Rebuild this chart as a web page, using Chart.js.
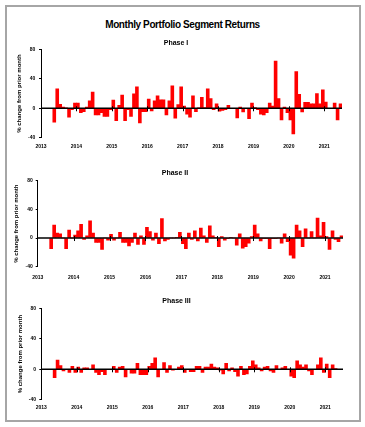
<!DOCTYPE html>
<html>
<head>
<meta charset="utf-8">
<script src="https://cdn.jsdelivr.net/npm/chart.js@4.4.0/dist/chart.umd.min.js"></script>
<style>
  html, body { margin: 0; padding: 0; background: #fff; }
  body { width: 365px; height: 427px; position: relative; overflow: hidden; font-family: "Liberation Sans", Arial, sans-serif; }
  #frame { position: absolute; left: 5px; top: 5px; width: 356px; height: 417px; box-sizing: border-box; border: 2px solid #a6a6a6; }
  #mainTitle { position: absolute; left: 0; top: 19px; width: 365px; text-align: center; font-size: 10px; line-height: 12px; font-weight: bold; letter-spacing: -0.4px; color: #000; }
  canvas { position: absolute; left: 0; }
</style>
</head>
<body>
<div id="frame"></div>
<div id="mainTitle">Monthly Portfolio Segment Returns</div>
<canvas id="c1" width="365" height="113" style="top:39px"></canvas>
<canvas id="c2" width="365" height="114" style="top:169px"></canvas>
<canvas id="c3" width="365" height="117" style="top:297px"></canvas>
<script>
// --- data: monthly % change, Jan 2013 .. Jun 2021 (series start May 2013) ---
const years = [2013, 2014, 2015, 2016, 2017, 2018, 2019, 2020, 2021];
const lastMonth2021 = 6;
const yTicks = [-40, 0, 40, 80];
const panelTitles = ["Phase I", "Phase II", "Phase III"];
const yTitle = "% change from prior month";

const phase1 = [
  null, null, null, null, -19, 26.5, 5.5, 1.5, 0.5, -12, -2, 7,      // 2013
  7, -6, -4.5, 1.5, 10, 22, -9, -9, -6, -11, -11, -2,              // 2014
  11, -17, 4, 18, -17, -2, -11, 19.5, 29, -20, -4.5, -4.5,         // 2015
  12.5, -3.5, 10, 17, 11.5, 11.5, -9, 10, 30.5, -13.5, 5, 29,      // 2016
  3, -8, -12, 17, -4.5, 0.5, 15, 1, 26.5, 13, -2, 6,               // 2017
  -4, -3, -2, 4, 0, 0, -13, 1.5, -5, 0, -14, 7,                    // 2018
  1, -2, -8, -9, -6, 7, 3, 64, 13, -16, 1.5, -6,                   // 2019
  -16, -35, 50, 19, -5, 8, 8, 6, 6, 20, 6, 25,                     // 2020
  8.5, 0, 0, 7, -16, 6                                             // 2021
];
const phase2 = [
  null, null, null, null, -15, 18, 7, 6, 0, -15, 11, 0,
  4, 10, 19, -2, 3, 24, 7, -6, -6, -16, 0, -3,
  5, -3, 0, 8, -6, -6, -11, -6, 7, -9, 3, -9,
  15, 9, -3, 7, -8, 27, -4, -2, 0, 0, 1, 8,
  -8, -15, 7, -2, 10, -4, 14, 3, -6, 17, 3, 1,
  -12, 2, -3, -1, 1, 0, -10, 6, -14, -12, -7, 2,
  18, 6, -4, -1, -1, -15, -1, -1, 0, -7, 6, -5,
  -24, -28, 18, 10, -12, 13, 0, 9, 0, 28, 3, 22,
  2, -16, 10, -2, -5, 3
];
const phase3 = [
  null, null, null, null, -11, 12, 5, -2, 0, -4, 4, -4,
  3, -4, 2, 2, 0, 6, -4, -7, -3, -7, 0, 0,
  4, -4, 3, 4, -10, 0, -5, -5, 8, -7, -7, -7,
  4, 8, 15, -10, 0, 9, -4, 5, -1, 0, 3, 5,
  -4, 0, -3, -3, 4, 4, -4, 3, 3, 7, 3, 2,
  -1, -6, 8, -2, 2, -3, -9, 4, -7, -6, 4, 11,
  6, 2, -2, 3, 4, -2, -4, 5, 0, 2, 4, 0,
  -9, -11, 11, 6, 3, 6, -2, -7, 0, 6, 15, -4,
  7, -11, 6, 1, null, null
];

// month categories "YYYY-MM"
const months = [];
years.forEach(y => {
  const last = y === 2021 ? lastMonth2021 : 12;
  for (let m = 1; m <= last; m++) months.push(y + "-" + String(m).padStart(2, "0"));
});

const FONT = "'Liberation Sans', Arial, sans-serif";

// zero line with small year ticks, drawn on top of the bars
const zeroLine = {
  id: "zeroLine",
  afterDatasetsDraw(chart) {
    const { ctx, chartArea, scales: { x, y } } = chart;
    const y0 = y.getPixelForValue(0);
    const half = (x.getPixelForValue(1) - x.getPixelForValue(0)) / 2;
    ctx.save();
    ctx.strokeStyle = "#000";
    ctx.lineWidth = 1.5;
    ctx.beginPath();
    ctx.moveTo(chartArea.left, y0);
    ctx.lineTo(chartArea.right, y0);
    ctx.stroke();
    ctx.lineWidth = 1;
    ctx.beginPath();
    months.forEach((m, i) => {
      if (i > 0 && m.endsWith("-01")) {
        const xp = Math.round(x.getPixelForValue(i) - half) + 0.5;
        ctx.moveTo(xp, y0 - 2);
        ctx.lineTo(xp, y0 + 3);
      }
    });
    ctx.stroke();
    ctx.restore();
  }
};

// per-panel layout
const panels = [
  { id: "c1", data: phase1, padLeft: 10, padRight: 23, yWidth: 31,   titleGap: 2,   xHeight: 14.3, xPad: 6.2, yPad: 3.7, yTitlePad: 5.9 },
  { id: "c2", data: phase2, padLeft: 7,  padRight: 22, yWidth: 30.7, titleGap: 3.3, xHeight: 16.3, xPad: 7.5, yPad: 3,   yTitlePad: 5.4 },
  { id: "c3", data: phase3, padLeft: 10, padRight: 22, yWidth: 31.3, titleGap: 3.1, xHeight: 14.3, xPad: 5.2, yPad: 3.3, yTitlePad: 6.4 }
];

panels.forEach((p, k) => {
  new Chart(document.getElementById(p.id).getContext("2d"), {
    type: "bar",
    data: {
      labels: months,
      datasets: [{
        data: p.data,
        backgroundColor: "#ff0000",
        borderWidth: 0,
        barPercentage: 1,
        categoryPercentage: 1
      }]
    },
    options: {
      responsive: false,
      animation: false,
      layout: { padding: { left: p.padLeft, right: p.padRight, top: 0, bottom: 0 } },
      plugins: {
        legend: { display: false },
        tooltip: { enabled: false },
        title: {
          display: true,
          text: panelTitles[k],
          color: "#000",
          font: { family: FONT, size: 7, weight: "bold", lineHeight: 1.2 },
          padding: { top: 0, bottom: p.titleGap }
        }
      },
      scales: {
        x: {
          grid: { display: false, drawTicks: false },
          border: { display: false },
          ticks: {
            autoSkip: false,
            maxRotation: 0,
            minRotation: 0,
            padding: p.xPad,
            labelOffset: -1.5,
            color: "#000",
            font: { family: FONT, size: 5, weight: "bold", lineHeight: 1.2 },
            callback: (v, i) => months[i].endsWith("-01") ? months[i].slice(0, 4) : ""
          },
          afterFit: s => { s.height = p.xHeight; }
        },
        y: {
          min: yTicks[0],
          max: yTicks[yTicks.length - 1],
          afterBuildTicks: s => { s.ticks = yTicks.map(v => ({ value: v })); },
          grid: { drawOnChartArea: false, drawTicks: true, tickLength: 2, tickColor: "#000" },
          border: { display: true, color: "#000", width: 1 },
          ticks: {
            padding: p.yPad,
            color: "#000",
            font: { family: FONT, size: 5, weight: "bold", lineHeight: 1.2 }
          },
          title: {
            display: true,
            text: yTitle,
            color: "#000",
            font: { family: FONT, size: 6, weight: "bold", lineHeight: 1.2 },
            padding: { top: p.yTitlePad, bottom: 0 }
          },
          afterFit: s => { s.width = p.yWidth; }
        }
      }
    },
    plugins: [zeroLine]
  });
});
</script>
</body>
</html>
